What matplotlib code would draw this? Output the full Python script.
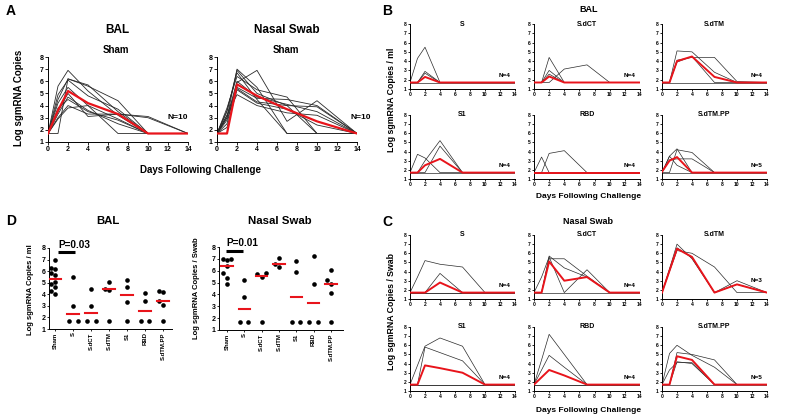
import numpy as np
import matplotlib
matplotlib.use("Agg")
import matplotlib.pyplot as plt

plt.rcParams['font.family'] = ['Liberation Sans', 'DejaVu Sans']
plt.rcParams['font.weight'] = 'bold'
plt.rcParams['axes.labelweight'] = 'bold'

# ---------------- data ----------------
days = [0, 1, 2, 4, 7, 10, 14]

A_bal_sham = [
    [1.7, 5.6, 6.9, 5.2, 3.2, 1.7, 1.7],
    [1.7, 1.7, 6.2, 5.6, 4.4, 1.7, 1.7],
    [1.7, 4.5, 6.2, 5.7, 3.5, 1.7, 1.7],
    [1.7, 3.5, 5.0, 3.1, 3.3, 3.1, 1.7],
    [1.7, 3.0, 4.0, 3.3, 3.3, 3.0, 1.7],
    [1.7, 2.9, 3.8, 4.0, 1.7, 1.7, 1.7],
    [1.7, 4.2, 5.5, 4.0, 2.9, 1.7, 1.7],
    [1.7, 3.8, 4.5, 3.5, 2.8, 1.7, 1.7],
    [1.7, 4.9, 6.1, 4.8, 3.7, 1.7, 1.7],
    [1.7, 3.3, 4.7, 3.6, 2.5, 1.7, 1.7],
]
A_bal_sham_mean = [1.7, 3.6, 5.2, 4.2, 3.3, 1.7, 1.7]

A_nasal_sham = [
    [1.7, 3.0, 7.0, 5.5, 1.7, 1.7, 1.7],
    [1.7, 3.5, 6.9, 5.0, 4.0, 1.7, 1.7],
    [1.7, 2.5, 5.9, 6.9, 2.7, 4.4, 1.7],
    [1.7, 3.8, 6.4, 5.3, 4.7, 1.7, 1.7],
    [1.7, 3.2, 5.5, 4.6, 4.5, 4.0, 1.7],
    [1.7, 2.8, 5.4, 4.3, 4.0, 3.9, 1.7],
    [1.7, 3.2, 4.9, 4.0, 3.4, 3.2, 1.7],
    [1.7, 3.6, 6.7, 4.5, 1.7, 1.7, 1.7],
    [1.7, 2.2, 5.3, 4.2, 3.7, 2.4, 1.7],
    [1.7, 3.0, 6.0, 4.7, 4.1, 3.5, 1.7],
]
A_nasal_sham_mean = [1.7, 1.7, 5.75, 4.8, 3.7, 2.7, 1.7]

groups = ["S", "S.dCT", "S.dTM", "S1", "RBD", "S.dTM.PP"]
group_n_bal = ["N=4", "N=4", "N=4", "N=4", "N=4", "N=5"]
group_n_nasal = ["N=4", "N=4", "N=3", "N=4", "N=4", "N=5"]

B_S = [[1.7, 4.3, 5.5, 1.7, 1.7, 1.7, 1.7],
       [1.7, 1.7, 2.9, 1.7, 1.7, 1.7, 1.7],
       [1.7, 1.7, 2.7, 1.7, 1.7, 1.7, 1.7],
       [1.7, 1.7, 1.7, 1.7, 1.7, 1.7, 1.7]]
B_S_mean = [1.7, 1.7, 2.3, 1.7, 1.7, 1.7, 1.7]
B_SdCT = [[1.7, 1.7, 4.4, 1.7, 1.7, 1.7, 1.7],
          [1.7, 1.7, 3.0, 1.7, 1.7, 1.7, 1.7],
          [1.7, 1.7, 1.7, 3.15, 3.6, 1.7, 1.7],
          [1.7, 1.7, 2.6, 1.7, 1.7, 1.7, 1.7]]
B_SdCT_mean = [1.7, 1.7, 2.35, 1.7, 1.7, 1.7, 1.7]
B_SdTM = [[1.7, 1.7, 5.1, 5.0, 2.8, 1.7, 1.7],
          [1.7, 1.7, 4.1, 4.4, 4.4, 1.8, 1.7],
          [1.7, 1.7, 3.9, 4.5, 1.7, 1.7, 1.7],
          [1.7, 1.7, 1.7, 1.7, 1.7, 1.7, 1.7]]
B_SdTM_mean = [1.7, 1.7, 4.0, 4.5, 2.3, 1.7, 1.7]
B_S1 = [[1.7, 1.7, 3.0, 5.2, 1.7, 1.7, 1.7],
        [1.7, 1.7, 1.7, 4.6, 1.7, 1.7, 1.7],
        [1.7, 3.7, 3.3, 1.7, 1.7, 1.7, 1.7],
        [1.7, 1.7, 1.7, 1.7, 1.7, 1.7, 1.7]]
B_S1_mean = [1.7, 1.7, 2.5, 3.2, 1.7, 1.7, 1.7]
B_RBD = [[1.7, 3.4, 1.7, 1.7, 1.7, 1.7, 1.7],
         [1.7, 1.7, 3.8, 4.1, 1.7, 1.7, 1.7],
         [1.7, 1.7, 1.7, 1.7, 1.7, 1.7, 1.7],
         [1.7, 1.7, 1.7, 1.7, 1.7, 1.7, 1.7]]
B_RBD_mean = [1.7, 1.7, 1.7, 1.7, 1.7, 1.7, 1.7]
B_SdTMPP = [[1.7, 3.5, 4.3, 1.7, 1.7, 1.7, 1.7],
            [1.7, 1.7, 4.2, 3.9, 1.7, 1.7, 1.7],
            [1.7, 3.1, 3.2, 3.2, 1.7, 1.7, 1.7],
            [1.7, 3.5, 2.5, 1.7, 1.7, 1.7, 1.7],
            [1.7, 1.7, 1.7, 1.7, 1.7, 1.7, 1.7]]
B_SdTMPP_mean = [1.8, 3.0, 3.4, 1.7, 1.7, 1.7, 1.7]

C_S = [[1.7, 3.4, 5.2, 4.8, 4.5, 1.7, 1.7],
       [1.7, 1.7, 1.7, 3.8, 1.7, 1.7, 1.7],
       [1.7, 1.7, 1.7, 1.7, 1.7, 1.7, 1.7],
       [1.7, 1.7, 1.7, 1.7, 1.7, 1.7, 1.7]]
C_S_mean = [1.7, 1.7, 1.7, 2.8, 1.7, 1.7, 1.7]
C_SdCT = [[1.7, 3.4, 5.6, 1.7, 4.2, 1.7, 1.7],
          [1.7, 1.7, 5.7, 4.4, 3.4, 1.7, 1.7],
          [1.7, 1.7, 5.4, 5.4, 3.5, 1.7, 1.7],
          [1.7, 1.7, 1.7, 1.7, 1.7, 1.7, 1.7]]
C_SdCT_mean = [1.7, 1.7, 5.1, 3.0, 3.4, 1.7, 1.7]
C_SdTM = [[1.7, 4.3, 7.0, 5.4, 1.7, 3.0, 1.7],
          [1.7, 4.0, 6.3, 6.0, 4.5, 1.7, 1.7],
          [1.7, 4.2, 6.6, 5.5, 1.7, 2.6, 1.7]]
C_SdTM_mean = [1.7, 4.1, 6.5, 5.6, 1.7, 2.6, 1.7]
C_S1 = [[1.7, 3.8, 5.9, 6.8, 5.9, 1.7, 1.7],
        [1.7, 1.7, 5.8, 5.2, 4.3, 1.7, 1.7],
        [1.7, 1.7, 1.7, 1.7, 1.7, 1.7, 1.7],
        [1.7, 1.7, 1.7, 1.7, 1.7, 1.7, 1.7]]
C_S1_mean = [1.7, 1.7, 3.8, 3.5, 3.0, 1.7, 1.7]
C_RBD = [[1.7, 4.4, 7.2, 5.0, 1.7, 1.7, 1.7],
         [1.7, 3.3, 4.9, 3.6, 1.7, 1.7, 1.7],
         [1.7, 1.7, 1.7, 1.7, 1.7, 1.7, 1.7],
         [1.7, 1.7, 1.7, 1.7, 1.7, 1.7, 1.7]]
C_RBD_mean = [1.7, 2.5, 3.3, 2.7, 1.7, 1.7, 1.7]
C_SdTMPP = [[1.7, 5.1, 6.0, 4.9, 3.6, 1.7, 1.7],
            [1.7, 3.3, 4.1, 4.1, 1.7, 1.7, 1.7],
            [1.7, 1.7, 5.2, 5.0, 4.4, 1.7, 1.7],
            [1.7, 1.7, 4.2, 4.0, 1.7, 1.7, 1.7],
            [1.7, 1.7, 1.7, 1.7, 1.7, 1.7, 1.7]]
C_SdTMPP_mean = [1.7, 1.7, 4.8, 4.4, 1.7, 1.7, 1.7]

D_groups = ["Sham", "S", "S.dCT", "S.dTM", "S1", "RBD", "S.dTM.PP"]
D_bal_values = [
    [6.2, 5.8, 5.1, 4.6, 7.0, 4.0, 6.3, 5.7, 4.9, 4.3],
    [5.5, 3.0, 1.7, 1.7],
    [4.5, 3.0, 1.7, 1.7],
    [5.1, 4.5, 4.4, 1.7],
    [5.2, 4.6, 3.3, 1.7],
    [4.1, 3.4, 1.7, 1.7],
    [4.3, 4.2, 3.4, 3.1, 1.7],
]
D_bal_means = [5.35, 2.3, 2.35, 4.45, 3.95, 2.55, 3.4]
D_nasal_values = [
    [6.9, 7.0, 6.95, 6.4, 5.8, 5.4, 4.9],
    [5.2, 3.8, 1.7, 1.7],
    [5.7, 5.8, 5.5, 1.7],
    [6.3, 7.1, 6.6],
    [6.8, 5.9, 1.7, 1.7],
    [7.2, 4.9, 1.7, 1.7],
    [6.1, 5.2, 4.9, 4.1, 1.7],
]
D_nasal_means = [6.4, 2.75, 5.55, 6.6, 3.8, 3.3, 4.85]

# ---------------- layout helpers ----------------
W, H = 787, 420
fig = plt.figure(figsize=(W / 100, H / 100), dpi=100)
RED = '#e8141b'
LINE = '#2a2a2a'


def ax_px(l, r, t, b):
    return fig.add_axes([l / W, 1 - b / H, (r - l) / W, (b - t) / H])


def ftext(x, y, s, **kw):
    kw.setdefault('ha', 'center')
    kw.setdefault('va', 'center')
    kw.setdefault('fontweight', 'bold')
    fig.text(x / W, 1 - y / H, s, **kw)


def style(ax, fs, tl):
    for s in ['top', 'right']:
        ax.spines[s].set_visible(False)
    for s in ['left', 'bottom']:
        ax.spines[s].set_linewidth(0.7)
    ax.tick_params(labelsize=fs, length=tl, width=0.6, pad=1)


def time_panel(ax, animals, mean, fs, tl, lw_a, lw_m):
    for a in animals:
        ax.plot(days, a, color=LINE, lw=lw_a, zorder=2)
    ax.plot(days, mean, color=RED, lw=lw_m, zorder=3)
    ax.set_xlim(0, 14)
    ax.set_ylim(1, 8)
    ax.set_xticks(range(0, 15, 2))
    ax.set_yticks(range(1, 9))
    style(ax, fs, tl)


# ---------------- Panel A ----------------
axA1 = ax_px(48, 188, 57, 142)
time_panel(axA1, A_bal_sham, A_bal_sham_mean, 5, 2, 0.6, 1.6)
axA2 = ax_px(217, 357, 57, 142)
time_panel(axA2, A_nasal_sham, A_nasal_sham_mean, 5, 2, 0.6, 1.6)
axA1.text(13.0, 3.0, "N=10", fontsize=6, ha='center', va='center')
axA2.text(14.4, 3.0, "N=10", fontsize=6, ha='center', va='center')
ftext(11, 11, "A", fontsize=10)
ftext(117, 30, "BAL", fontsize=8.5)
ftext(287, 30, "Nasal Swab", fontsize=8.5)
ftext(116, 50, "Sham", fontsize=7)
ftext(286, 50, "Sham", fontsize=7)
ftext(200, 170, "Days Following Challenge", fontsize=7)
ftext(19, 98, "Log sgmRNA Copies", fontsize=7, rotation=90)

# ---------------- Panels B & C ----------------
cols = [(410, 515), (534, 640), (662, 767)]
B_rows = [(24, 89), (115, 179)]
C_rows = [(235, 299), (327, 391)]
B_sets = [(B_S, B_S_mean), (B_SdCT, B_SdCT_mean), (B_SdTM, B_SdTM_mean),
          (B_S1, B_S1_mean), (B_RBD, B_RBD_mean), (B_SdTMPP, B_SdTMPP_mean)]
C_sets = [(C_S, C_S_mean), (C_SdCT, C_SdCT_mean), (C_SdTM, C_SdTM_mean),
          (C_S1, C_S1_mean), (C_RBD, C_RBD_mean), (C_SdTMPP, C_SdTMPP_mean)]

for rows, sets, nlab in [(B_rows, B_sets, group_n_bal), (C_rows, C_sets, group_n_nasal)]:
    for i, (animals, mean) in enumerate(sets):
        r, c = divmod(i, 3)
        ax = ax_px(cols[c][0], cols[c][1], rows[r][0], rows[r][1])
        time_panel(ax, animals, mean, 3.6, 1.5, 0.5, 1.4)
        ax.text(0.5, 1.0, groups[i], transform=ax.transAxes, fontsize=5,
                ha='center', va='center')
        ny = 3.0 if nlab[i] == "N=3" else 2.45
        ax.text(12.6, ny, nlab[i], fontsize=4.6, ha='center', va='center')

ftext(387, 11, "B", fontsize=10)
ftext(589, 10, "BAL", fontsize=6.5)
ftext(589, 197, "Days Following Challenge", fontsize=6)
ftext(392, 100, "Log sgmRNA Copies / ml", fontsize=6.3, rotation=90)
ftext(387, 222, "C", fontsize=10)
ftext(588, 222, "Nasal Swab", fontsize=6.5)
ftext(589, 410, "Days Following Challenge", fontsize=6)
ftext(392, 311, "Log sgmRNA Copies / Swab", fontsize=6.3, rotation=90)


# ---------------- Panel D ----------------
def swarm(vals, s=0.24, ry=0.4):
    vals = list(vals)
    offs = [0.0] * len(vals)
    order = np.argsort(vals, kind='stable')
    placed = []
    dup_count = {}
    for i in order:
        v = vals[i]
        key = round(v, 3)
        ndup = sum(1 for u in vals if round(u, 3) == key)
        if ndup > 1 and key < 2.0:
            k = dup_count.get(key, 0)
            dup_count[key] = k + 1
            o = (k - (ndup - 1) / 2) * 2.0 * s
        else:
            o = 0.0
            for cnd in [0, -s, s, -2 * s, 2 * s, -3 * s, 3 * s]:
                if all(abs(cnd - po) > s * 0.5 or abs(v - pv) > ry for po, pv in placed):
                    o = cnd
                    break
        offs[i] = o
        placed.append((o, v))
    return offs


def dot_panel(ax, values, means, xlim):
    for g, (vals, m) in enumerate(zip(values, means)):
        offs = swarm(vals)
        ax.scatter([g + o for o in offs], vals, s=11, color='black', zorder=3,
                   linewidths=0, clip_on=False)
        ax.plot([g - 0.33, g + 0.33], [m, m], color=RED, lw=1.5, zorder=4)
    ax.set_xlim(*xlim)
    ax.set_ylim(1, 8)
    ax.set_yticks(range(1, 9))
    ax.set_xticks(range(len(D_groups)))
    ax.set_xticklabels(D_groups, rotation=90, fontsize=4.3)
    style(ax, 5, 1.5)
    ax.tick_params(axis='x', labelsize=4.3)


axD1 = ax_px(49, 172, 248, 329)
dot_panel(axD1, D_bal_values, D_bal_means, (-0.35, 6.5))
axD1.plot([0.15, 1.1], [7.65, 7.65], color='black', lw=2.2, clip_on=False,
          solid_capstyle='butt')
axD1.text(0.15, 8.3, "P=0.03", fontsize=7.2, ha='left', va='center')

axD2 = ax_px(219, 343, 247, 330)
dot_panel(axD2, D_nasal_values, D_nasal_means, (-0.46, 6.7))
axD2.plot([-0.05, 0.93], [7.65, 7.65], color='black', lw=2.2, clip_on=False,
          solid_capstyle='butt')
axD2.text(-0.02, 8.3, "P=0.01", fontsize=7.2, ha='left', va='center')

ftext(11, 221, "D", fontsize=10)
ftext(108, 221, "BAL", fontsize=8.2)
ftext(280, 221, "Nasal Swab", fontsize=8.2)
ftext(31, 290, "Log sgmRNA Copies / ml", fontsize=5.5, rotation=90)
ftext(197, 288, "Log sgmRNA Copies / Swab", fontsize=5.5, rotation=90)

fig.savefig("out.png", dpi=100)
